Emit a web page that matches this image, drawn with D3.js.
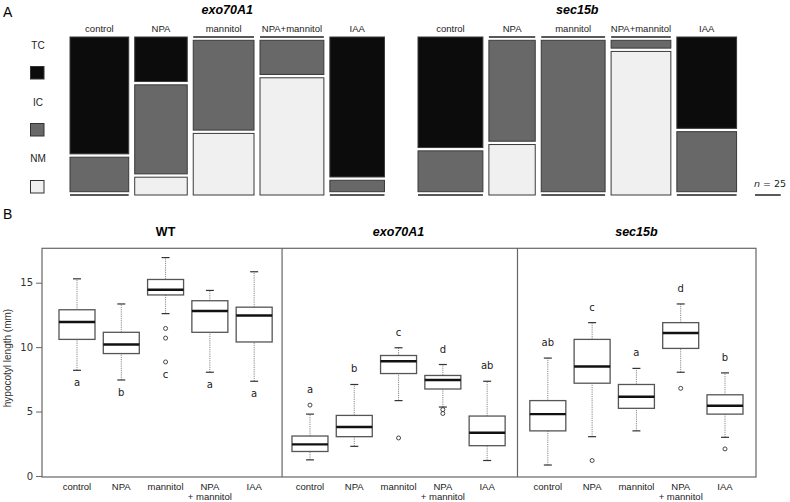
<!DOCTYPE html>
<html>
<head>
<meta charset="utf-8">
<script src="https://cdn.jsdelivr.net/npm/d3@7"></script>
<style>
  body { margin: 0; background: #fff; }
  svg { display: block; font-family: "Liberation Sans", Arial, sans-serif; }
</style>
</head>
<body>
<div id="chart"></div>
<script>
// PANEL A data: seedling counts per phenotype class
const statuses = ["TC", "IC", "NM"];
const treatments = ["control", "NPA", "mannitol", "NPA+mannitol", "IAA"];
const exoTC = [44, 15, 0, 0, 49];
const exoIC = [13, 30, 35, 14, 4];
const exoNM = [0, 6, 24, 48, 0];
const secTC = [46, 0, 0, 0, 35];
const secIC = [17, 30, 62, 3, 23];
const secNM = [0, 15, 0, 55, 0];

// PANEL B data: [lower whisker, q1, median, q3, upper whisker]
const genotypes = ["WT", "exo70A1", "sec15b"];
const xLabels = ["control", "NPA", "mannitol", "NPA\n+ mannitol", "IAA"];
const wtStats = [
    [8.2, 10.6, 11.95, 12.9, 15.3],
    [7.45, 9.5, 10.2, 11.15, 13.35],
    [12.6, 14.05, 14.45, 15.25, 16.95],
    [8.05, 11.15, 12.8, 13.6, 14.4],
    [7.35, 10.4, 12.45, 13.1, 15.85]
];
const wtOutliers = [[], [], [11.45, 10.7, 8.85], [], []];
const exoStats = [
    [1.25, 1.9, 2.45, 3.1, 4.8],
    [2.3, 3.05, 3.8, 4.7, 7.1],
    [5.85, 7.95, 8.9, 9.35, 9.95],
    [5.35, 6.75, 7.45, 7.8, 8.65],
    [1.2, 2.35, 3.35, 4.65, 7.35]
];
const exoOutliers = [[5.5], [], [2.95], [5.15, 4.85], []];
const secStats = [
    [0.85, 3.5, 4.8, 5.85, 9.15],
    [3.05, 7.2, 8.5, 10.6, 11.9],
    [3.5, 5.25, 6.15, 7.1, 8.35],
    [8.05, 9.9, 11.1, 11.9, 13.35],
    [3.0, 4.8, 5.45, 6.3, 8.0]
];
const secOutliers = [[], [1.2], [], [6.8], [2.1]];
const wtLetters = ["a", "b", "c", "a", "a"];
const exoLetters = ["a", "b", "c", "d", "ab"];
const secLetters = ["ab", "c", "a", "d", "b"];
const yTicks = [0, 5, 10, 15];

const width = 790, height = 502;
const svg = d3.select("#chart").append("svg")
    .attr("width", width)
    .attr("height", height);

// ---------- PANEL A: mosaic ----------
const color = d3.scaleOrdinal().domain(statuses).range(["#0c0c0c", "#686868", "#f0f0f0"]);
const mosaicTop = 37, mosaicH = 158, cellGap = 3.3, colGap = 6;
const countPx = d3.scaleLinear().domain([0, 1]).range([0, 1.03]);
const fracPx = d3.scaleLinear().domain([0, 1]).range([0, mosaicH - 2 * cellGap]);

svg.append("text").attr("x", 3).attr("y", 17).style("font-size", "14px").text("A");

// legend
statuses.forEach((s, i) => {
    svg.append("text")
        .attr("x", 38).attr("y", 49 + i * 56.5)
        .attr("text-anchor", "middle")
        .style("font-size", "10px").attr("fill", "#222")
        .text(s);
    svg.append("rect")
        .attr("x", 30.5).attr("y", 66.5 + i * 57)
        .attr("width", 13.5).attr("height", 12.5)
        .attr("fill", color(s)).attr("stroke", "#333").attr("stroke-width", 1);
});

function drawMosaic(title, startX, tc, ic, nm) {
    const g = svg.append("g");
    let x = startX;
    const cols = treatments.map((t, i) => {
        const counts = [tc[i], ic[i], nm[i]];
        const total = d3.sum(counts);
        const w = countPx(total);
        const col = { t, counts, total, x, w };
        x += w + colGap;
        return col;
    });
    const right = x - colGap;
    g.append("text")
        .attr("x", (startX + right) / 2).attr("y", 14)
        .attr("text-anchor", "middle")
        .style("font-size", "12.5px").style("font-weight", "bold").style("font-style", "italic")
        .text(title);
    cols.forEach(col => {
        g.append("text")
            .attr("x", col.x + col.w / 2).attr("y", 32)
            .attr("text-anchor", "middle")
            .style("font-size", "9.5px").attr("fill", "#222")
            .text(col.t);
        let y = mosaicTop;
        col.counts.forEach((c, j) => {
            const h = fracPx(c / col.total);
            if (h > 0) {
                g.append("rect")
                    .attr("x", col.x).attr("y", y)
                    .attr("width", col.w).attr("height", h)
                    .attr("fill", color(statuses[j]))
                    .attr("stroke", "#3a3a3a").attr("stroke-width", 1);
            } else {
                g.append("line")
                    .attr("x1", col.x).attr("x2", col.x + col.w)
                    .attr("y1", y).attr("y2", y)
                    .attr("stroke", "#222").attr("stroke-width", 1.6);
            }
            y += h + cellGap;
        });
    });
}
drawMosaic("exo70A1", 70, exoTC, exoIC, exoNM);
drawMosaic("sec15b", 418, secTC, secIC, secNM);

// n = 25 scale bar
const nText = svg.append("text").attr("x", 754).attr("y", 187)
    .style("font-family", "'DejaVu Sans', sans-serif").style("font-size", "9.5px").attr("fill", "#222");
nText.append("tspan").style("font-style", "italic").text("n");
nText.append("tspan").text(" = 25");
svg.append("line")
    .attr("x1", 755).attr("x2", 755 + countPx(25))
    .attr("y1", 195).attr("y2", 195)
    .attr("stroke", "#222").attr("stroke-width", 1.5);

// ---------- PANEL B: boxplots ----------
const groupStart = [0, 5.26, 10.63];
const allStats = [wtStats, exoStats, secStats];
const allOutliers = [wtOutliers, exoOutliers, secOutliers];
const allLetters = [wtLetters, exoLetters, secLetters];

const frame = { left: 42, right: 756, top: 248.3, bottom: 477 };
const xScale = d3.scaleLinear().domain([-0.79, 15.33]).range([frame.left, frame.right]);
const yScale = d3.scaleLinear().domain([-0.08, 17.67]).range([frame.bottom, frame.top]);
const boxW = 36, capW = 8;

svg.append("text").attr("x", 3).attr("y", 219).style("font-size", "14px").text("B");

svg.append("rect")
    .attr("x", frame.left).attr("y", frame.top)
    .attr("width", frame.right - frame.left).attr("height", frame.bottom - frame.top)
    .attr("fill", "none").attr("stroke", "#666").attr("stroke-width", 1.2);

[1, 2].forEach(k => {
    const sx = xScale((groupStart[k - 1] + 4 + groupStart[k]) / 2);
    svg.append("line")
        .attr("x1", sx).attr("x2", sx)
        .attr("y1", frame.top).attr("y2", frame.bottom)
        .attr("stroke", "#666").attr("stroke-width", 1.2);
});

const yAxis = svg.append("g")
    .attr("transform", `translate(${frame.left},0)`)
    .call(d3.axisLeft(yScale).tickValues(yTicks).tickSize(6).tickPadding(3));
yAxis.select(".domain").remove();
yAxis.selectAll("line").attr("stroke", "#666");
yAxis.selectAll("text")
    .style("font-family", "'DejaVu Sans', sans-serif").style("font-size", "10px").attr("fill", "#333");

svg.append("text")
    .attr("transform", "rotate(-90)")
    .attr("x", -358).attr("y", 11)
    .attr("text-anchor", "middle")
    .style("font-size", "10px").attr("fill", "#333")
    .text("hypocotyl length (mm)");

genotypes.forEach((gName, k) => {
    const g = svg.append("g");
    const stats = allStats[k];
    g.append("text")
        .attr("x", xScale(groupStart[k] + 2)).attr("y", 236)
        .attr("text-anchor", "middle")
        .style("font-size", "12.5px").style("font-weight", "bold")
        .style("font-style", k === 0 ? "normal" : "italic")
        .text(gName);

    stats.forEach((s, i) => {
        const cx = xScale(groupStart[k] + i);
        const [lo, q1, med, q3, hi] = s;
        // whiskers
        [[lo, q1], [q3, hi]].forEach(([a, b]) => {
            g.append("line")
                .attr("x1", cx).attr("x2", cx)
                .attr("y1", yScale(a)).attr("y2", yScale(b))
                .attr("stroke", "#888").attr("stroke-width", 1)
                .attr("stroke-dasharray", "1.2,1");
        });
        [lo, hi].forEach(v => {
            g.append("line")
                .attr("x1", cx - capW / 2).attr("x2", cx + capW / 2)
                .attr("y1", yScale(v)).attr("y2", yScale(v))
                .attr("stroke", "#333").attr("stroke-width", 1.2);
        });
        // box
        g.append("rect")
            .attr("x", cx - boxW / 2).attr("y", yScale(q3))
            .attr("width", boxW).attr("height", yScale(q1) - yScale(q3))
            .attr("fill", "#fff").attr("stroke", "#555").attr("stroke-width", 1.3);
        g.append("line")
            .attr("x1", cx - boxW / 2).attr("x2", cx + boxW / 2)
            .attr("y1", yScale(med)).attr("y2", yScale(med))
            .attr("stroke", "#111").attr("stroke-width", 2.4);
        // outliers
        allOutliers[k][i].forEach(v => {
            g.append("circle")
                .attr("cx", cx).attr("cy", yScale(v)).attr("r", 2)
                .attr("fill", "none").attr("stroke", "#333").attr("stroke-width", 0.9);
        });
        // significance letters
        const all = [lo, hi].concat(allOutliers[k][i]);
        const ly = k === 0 ? yScale(d3.min(all)) + 16 : yScale(d3.max(all)) - 12;
        g.append("text")
            .attr("x", cx).attr("y", ly)
            .attr("text-anchor", "middle")
            .style("font-family", "'DejaVu Sans', sans-serif").style("font-size", "10px").attr("fill", "#222")
            .text(allLetters[k][i]);
        // x labels
        const lines = xLabels[i].split("\n");
        lines.forEach((ln, j) => {
            g.append("text")
                .attr("x", cx).attr("y", 490 + j * 10)
                .attr("text-anchor", "middle")
                .style("font-size", "9.5px").attr("fill", "#222")
                .text(ln);
        });
    });
});
</script>
</body>
</html>
